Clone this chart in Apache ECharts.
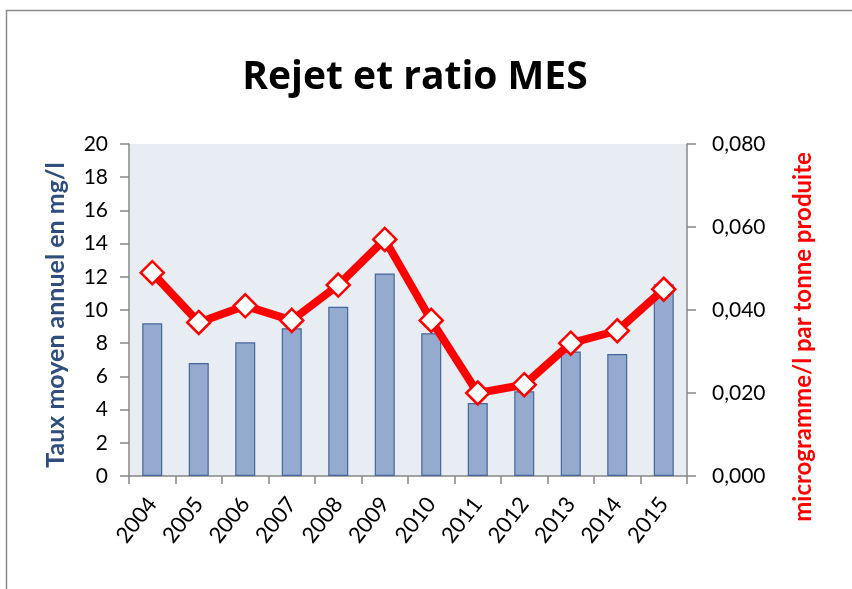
<!DOCTYPE html>
<html><head><meta charset="utf-8">
<script src="https://cdn.jsdelivr.net/npm/echarts@6/dist/echarts.min.js"></script>
<style>html,body{margin:0;padding:0;background:#fff}#c{width:852px;height:589px}</style>
</head><body><div id="c"></div>
<script>
const years = ['2004','2005','2006','2007','2008','2009','2010','2011','2012','2013','2014','2015'];
const tauxMoyen = [9.2, 6.8, 8.05, 8.9, 10.2, 12.2, 8.6, 4.4, 5.1, 7.5, 7.35, 11.55];
const ratio = [0.049, 0.037, 0.041, 0.0375, 0.046, 0.057, 0.0375, 0.020, 0.022, 0.032, 0.035, 0.045];
const titleText = 'Rejet et ratio MES';
const leftName = 'Taux moyen annuel en mg/l';
const rightName = 'microgramme/l par tonne produite';

const chart = echarts.init(document.getElementById('c'));
const font = 'Lato, "Open Sans", sans-serif';
chart.setOption({
  animation: false,
  backgroundColor: '#fff',
  title: { text: titleText, left: 410, top: 53, textAlign: 'center',
    textStyle: { fontFamily: '"Open Sans", sans-serif', fontWeight: 'bold', fontSize: 39, color: '#000' } },
  graphic: [
    { type: 'rect', shape: { x: 6.5, y: 10.5, width: 900, height: 700 }, style: { fill: 'none', stroke: '#8a8a8a', lineWidth: 1.5 }, silent: true, z: -1 },
    { type: 'text', x: 56, y: 315, rotation: Math.PI / 2, style: { text: leftName, fontFamily: font, fontWeight: 'bold', fontSize: 25, fill: '#2F4E7E', align: 'center', verticalAlign: 'middle' } },
    { type: 'text', x: 803, y: 337, rotation: Math.PI / 2, style: { text: rightName, fontFamily: font, fontWeight: 'bold', fontSize: 24, fill: '#FF0000', align: 'center', verticalAlign: 'middle' } }
  ],
  grid: { left: 129, right: 165, top: 144, bottom: 113, show: true, backgroundColor: '#E8EDF4', borderWidth: 0 },
  xAxis: {
    type: 'category', data: years, boundaryGap: true,
    axisLine: { lineStyle: { color: '#888', width: 1.5 } },
    axisTick: { show: true, length: 8, lineStyle: { color: '#888', width: 1.5 } },
    axisLabel: { rotate: 52, fontFamily: font, fontSize: 22, color: '#000', margin: 24 }
  },
  yAxis: [
    { type: 'value', min: 0, max: 20, interval: 2, position: 'left',
      axisLine: { show: true, lineStyle: { color: '#888', width: 1.5 } },
      axisTick: { show: true, length: 9, lineStyle: { color: '#888', width: 1.5 } },
      splitLine: { show: false },
      axisLabel: { fontFamily: font, fontSize: 21, color: '#000', margin: 21 } },
    { type: 'value', min: 0, max: 0.08, interval: 0.02, position: 'right',
      axisLine: { show: true, lineStyle: { color: '#888', width: 1.5 } },
      axisTick: { show: true, length: 9, lineStyle: { color: '#888', width: 1.5 } },
      splitLine: { show: false },
      axisLabel: { fontFamily: font, fontSize: 21, color: '#000', margin: 25,
        formatter: v => v.toFixed(3).replace('.', ',') } }
  ],
  series: [
    { type: 'bar', data: tauxMoyen, yAxisIndex: 0, barWidth: 20,
      itemStyle: { color: '#94AACF', borderColor: '#46669A', borderWidth: 1.2 } },
    { type: 'line', data: ratio, yAxisIndex: 1, z: 5,
      lineStyle: { color: '#FF0000', width: 8 },
      symbol: 'diamond', symbolSize: 23,
      itemStyle: { color: '#fff', borderColor: '#FF0000', borderWidth: 2.5 } }
  ]
});
</script></body></html>
